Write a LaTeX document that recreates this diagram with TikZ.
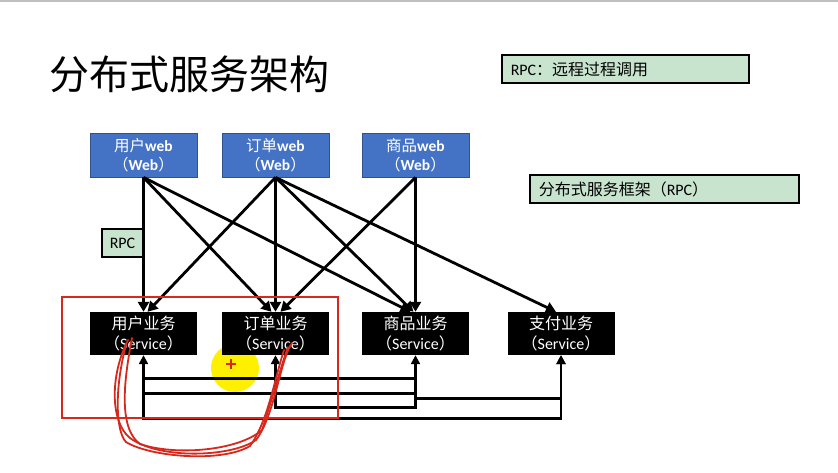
\documentclass[tikz,border=0pt]{standalone}
\usepackage{fontspec}
\setmainfont{Carlito}
\newfontfamily\cjk{Noto Sans CJK SC}
\usetikzlibrary{arrows.meta,positioning}

\definecolor{webblue}{RGB}{68,114,196}
\definecolor{webedge}{RGB}{47,82,143}
\definecolor{rpcgreen}{RGB}{200,228,206}
\definecolor{markred}{RGB}{214,40,28}
\definecolor{cursoryellow}{RGB}{255,240,0}

\newcommand{\zh}[1]{{\cjk #1}}

\tikzset{
  webbox/.style={draw=webedge, line width=0.8pt, fill=webblue, text=white,
    minimum width=107pt, minimum height=44pt, inner sep=0pt, align=center,
    font=\fontsize{15.5}{19}\selectfont},
  svcbox/.style={fill=black, text=white, minimum width=107pt,
    minimum height=43pt, inner sep=0pt, align=center,
    font=\fontsize{16}{20}\selectfont},
  tag/.style={draw=black, line width=1.5pt, fill=rpcgreen, minimum height=28pt,
    inner ysep=0pt, font=\fontsize{16}{18}\selectfont},
  call/.style={line width=2.8pt, -{Triangle[width=11pt,length=10pt]}},
  back/.style={line width=2.8pt, line cap=rect, -{Triangle[width=9pt,length=9pt]}},
  wire/.style={line width=2.8pt, line cap=rect},
  scribble/.style={markred, line width=1.8pt, line cap=round}
}

\begin{document}
\begin{tikzpicture}[x=1pt, y=-1pt]
  \useasboundingbox[fill=white] (0,0) rectangle (838,473);
  \draw[black!25, line width=2pt] (0,1) -- (838,1);

  % title and notes
  \node[anchor=west, inner sep=0pt, font=\cjk\fontsize{40}{48}\selectfont] (title) at (49,74) {分布式服务架构};
  \node[tag, anchor=west, text width=229pt, inner xsep=9pt] (rpcnote) at (501,69) {RPC\zh{：远程过程调用}};
  \node[tag, anchor=west, text width=251pt, inner xsep=9pt] (framenote) at (529,189) {\zh{分布式服务框架（}RPC\zh{）}};

  % cursor highlight
  \fill[cursoryellow] (235,368) circle (24);

  % web layer
  \node[webbox] (userweb) at (143.5,155) {\zh{用户}\textbf{web}\\\zh{（}\textbf{Web}\zh{）}};
  \node[webbox] (orderweb) at (275.5,155) {\zh{订单}\textbf{web}\\\zh{（}\textbf{Web}\zh{）}};
  \node[webbox] (goodsweb) at (415.5,155) {\zh{商品}\textbf{web}\\\zh{（}\textbf{Web}\zh{）}};

  % service layer
  \node[svcbox] (usersvc) at (143.5,333.5) {\zh{用户业务}\\\zh{（}Service\zh{）}};
  \node[svcbox] (ordersvc) at (275.5,333.5) {\zh{订单业务}\\\zh{（}Service\zh{）}};
  \node[svcbox] (goodssvc) at (415.5,333.5) {\zh{商品业务}\\\zh{（}Service\zh{）}};
  \node[svcbox] (paysvc) at (561,333.5) {\zh{支付业务}\\\zh{（}Service\zh{）}};

  \node[tag, minimum width=41pt, inner xsep=0pt] (rpc) at (122.5,243) {RPC};

  % web -> service calls
  \draw[call] (userweb.south) -- (usersvc.north);
  \draw[call] (userweb.south) -- ([xshift=-4pt]ordersvc.north);
  \draw[call] (userweb.south) -- ([xshift=-5pt]goodssvc.north);
  \draw[call] (orderweb.south) -- ([xshift=4pt]usersvc.north);
  \draw[call] (orderweb.south) -- (ordersvc.north);
  \draw[call] (orderweb.south) -- ([xshift=-2pt]goodssvc.north);
  \draw[call] (orderweb.south) -- ([xshift=-5pt]paysvc.north);
  \draw[call] (goodsweb.south) -- ([xshift=5pt]ordersvc.north);
  \draw[call] (goodsweb.south) -- (goodssvc.north);

  % service <-> service wiring underneath
  \draw[back] ([yshift=-63pt]usersvc.south) -- (usersvc.south);
  \draw[wire] ([yshift=-23pt]usersvc.south) -- ([yshift=-23pt]goodssvc.south);
  \draw[wire] ([yshift=-38pt]usersvc.south) -- ([yshift=-38pt]goodssvc.south);
  \draw[back] ([yshift=-52pt]goodssvc.south) -| (ordersvc.south);
  \draw[back] ([yshift=-52pt]goodssvc.south) -- (goodssvc.south);
  \draw[back] ([yshift=-43pt]goodssvc.south) -| (paysvc.south);
  \draw[back] ([yshift=-63pt]usersvc.south) -| (paysvc.south);

  % hand marks
  \draw[markred, line width=2pt] (62,297) rectangle (338,418);
  \draw[scribble] (128,340) .. controls (110,375) and (110,422) .. (130,438)
    .. controls (160,460) and (232,457) .. (256,440)
    .. controls (275,415) and (280,360) .. (292,343);
  \draw[scribble] (132,338) .. controls (124,380) and (118,428) .. (140,444)
    .. controls (175,456) and (238,451) .. (262,430)
    .. controls (272,400) and (281,366) .. (288,347);
  \draw[scribble] (126,345) .. controls (114,390) and (116,432) .. (126,442)
    .. controls (150,457) and (222,463) .. (250,446)
    .. controls (268,421) and (274,381) .. (284,350);
  \draw[markred, line width=1.5pt] (226,364) -- (236,364) (231,359) -- (231,369);
\end{tikzpicture}
\end{document}
